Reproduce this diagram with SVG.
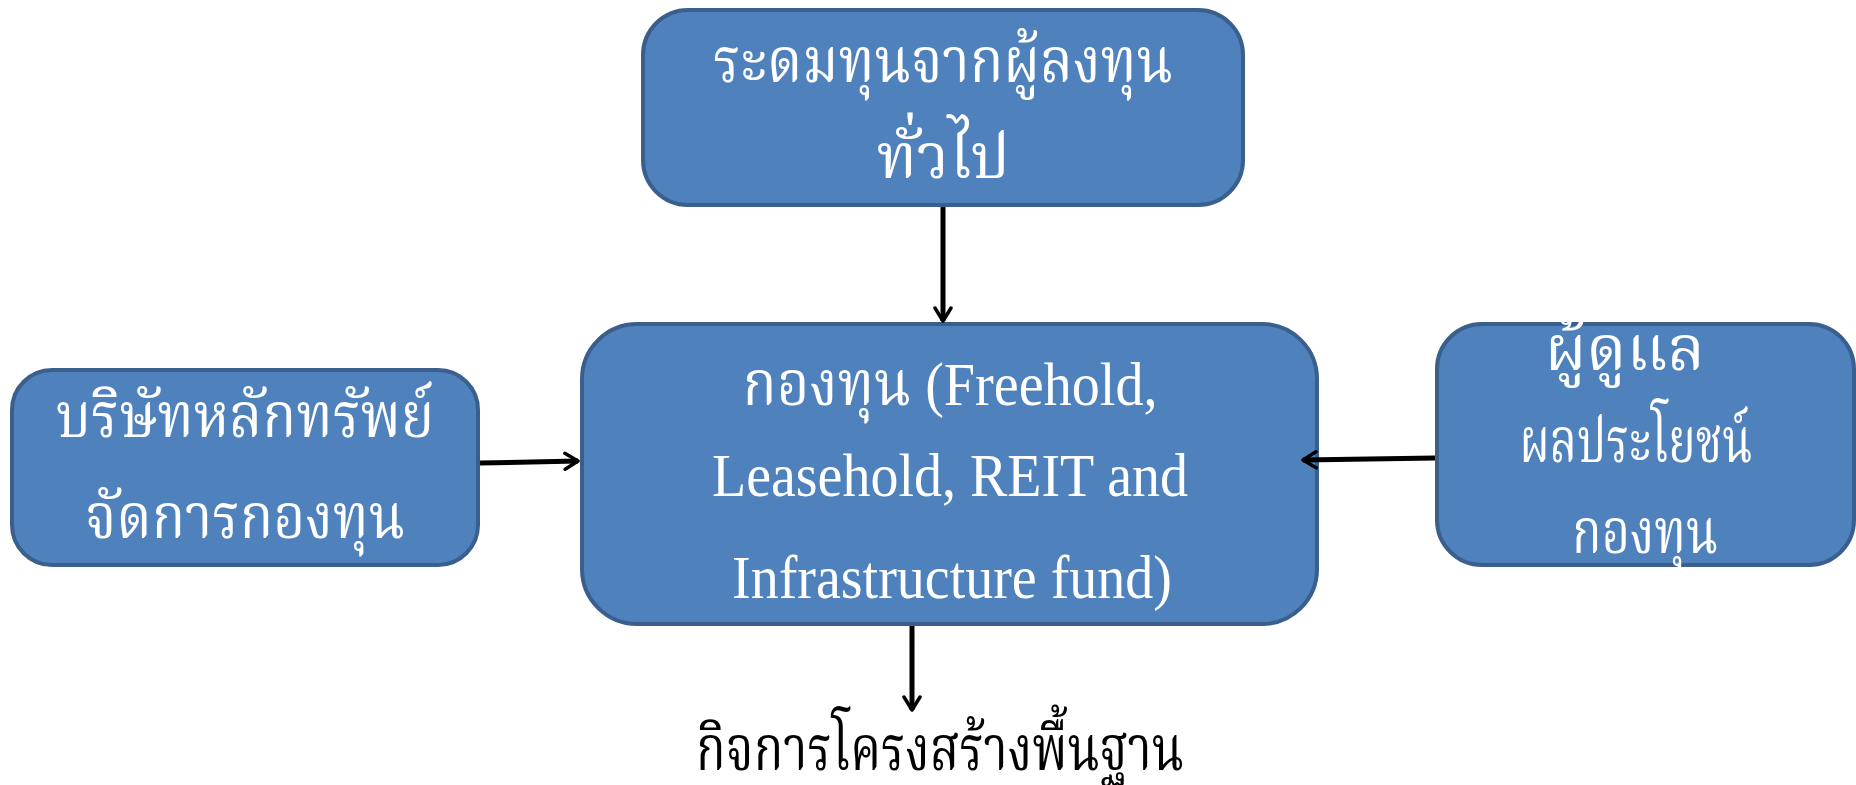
<svg xmlns="http://www.w3.org/2000/svg" width="1856" height="785" viewBox="0 0 1856 785">
<style>
.box{fill:#4F81BD;stroke:#3A5F8C;stroke-width:4}
.t{font-family:"Liberation Serif","Noto Serif Thai","Noto Sans Thai","Noto Sans",serif;font-size:62px;fill:#ffffff;text-anchor:middle}
.k{fill:#000000}
.c{stroke:#000;stroke-width:5;fill:none;marker-end:url(#ah)}
</style>
<defs>
<marker id="ah" viewBox="0 0 20 20" refX="17" refY="10" markerWidth="4" markerHeight="4" markerUnits="strokeWidth" orient="auto">
<path d="M4,2 L17,10 L4,18" fill="none" stroke="#000" stroke-width="3.5" stroke-linecap="round" stroke-linejoin="round"/>
</marker>
</defs>
<g id="node-top">
<rect class="box" x="643" y="10" width="600" height="195" rx="45"/>
<text class="t" x="943" y="82" textLength="460" lengthAdjust="spacingAndGlyphs">ระดมทุนจากผู้ลงทุน</text>
<text class="t" x="943" y="178">ทั่วไป</text>
</g>
<g id="node-center">
<rect class="box" x="582" y="324" width="735" height="300" rx="55"/>
<text class="t" x="950" y="405" textLength="415" lengthAdjust="spacingAndGlyphs">กองทุน (Freehold,</text>
<text class="t" x="950" y="496" textLength="476" lengthAdjust="spacingAndGlyphs">Leasehold, REIT and</text>
<text class="t" x="952" y="598" textLength="440" lengthAdjust="spacingAndGlyphs">Infrastructure fund)</text>
</g>
<g id="node-left">
<rect class="box" x="12" y="370" width="466" height="195" rx="40"/>
<text class="t" x="245" y="437" textLength="378" lengthAdjust="spacingAndGlyphs">บริษัทหลักทรัพย์</text>
<text class="t" x="245" y="538" textLength="320" lengthAdjust="spacingAndGlyphs">จัดการกองทุน</text>
</g>
<g id="node-right">
<rect class="box" x="1437" y="324" width="417" height="241" rx="45"/>
<text class="t" x="1625" y="370" textLength="160" lengthAdjust="spacingAndGlyphs">ผู้ดูแล</text>
<text class="t" x="1636" y="462" textLength="233" lengthAdjust="spacingAndGlyphs">ผลประโยชน์</text>
<text class="t" x="1645" y="553" textLength="146" lengthAdjust="spacingAndGlyphs">กองทุน</text>
</g>
<g id="label-bottom">
<text class="t k" x="940" y="770" textLength="488" lengthAdjust="spacingAndGlyphs">กิจการโครงสร้างพื้นฐาน</text>
</g>
<g id="connectors">
<line class="c" x1="943" y1="207" x2="943" y2="321"/>
<line class="c" x1="480" y1="463" x2="578" y2="461"/>
<line class="c" x1="1435" y1="458" x2="1303" y2="460"/>
<line class="c" x1="912" y1="626" x2="912" y2="710"/>
</g>
</svg>
